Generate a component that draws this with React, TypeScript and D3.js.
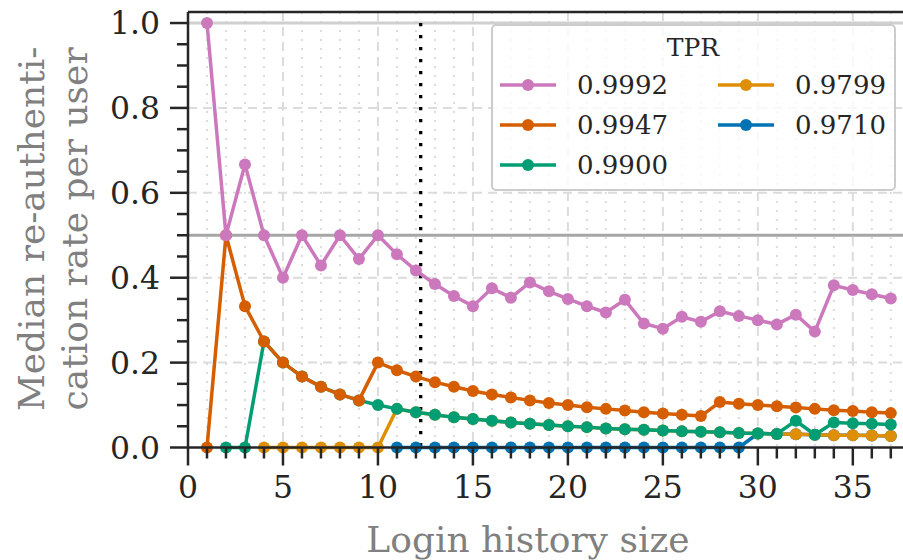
import React from "react";
import * as d3 from "d3";

// login history size 1..37
const historySize = d3.range(1, 38);

const tprLabels = ["0.9992", "0.9947", "0.9900", "0.9799", "0.9710"];
const colors = ["#cc78bc", "#d55e00", "#029e73", "#de8f05", "#0173b2"];

// median re-authentication rate per user (null = no point)
const tpr9992 = [
  1.0, 0.5, 0.667, 0.5, 0.4, 0.5, 0.429, 0.5, 0.444, 0.5, 0.455, 0.417, 0.385,
  0.357, 0.333, 0.375, 0.353, 0.389, 0.368, 0.35, 0.333, 0.318, 0.348, 0.292,
  0.28, 0.308, 0.296, 0.321, 0.31, 0.3, 0.29, 0.313, 0.273, 0.382, 0.371,
  0.361, 0.351,
];
const tpr9947 = [
  0, 0.5, 0.333, 0.25, 0.2, 0.167, 0.143, 0.125, 0.111, 0.2, 0.182, 0.167,
  0.154, 0.143, 0.133, 0.125, 0.118, 0.111, 0.105, 0.1, 0.095, 0.091, 0.087,
  0.083, 0.08, 0.077, 0.074, 0.107, 0.103, 0.1, 0.097, 0.094, 0.091, 0.088,
  0.086, 0.083, 0.081,
];
const tpr9900 = [
  null, 0, 0, 0.25, 0.2, 0.167, 0.143, 0.125, 0.111, 0.1, 0.091, 0.083, 0.077,
  0.071, 0.067, 0.063, 0.059, 0.056, 0.053, 0.05, 0.048, 0.045, 0.043, 0.042,
  0.04, 0.038, 0.037, 0.036, 0.034, 0.033, 0.032, 0.063, 0.03, 0.059, 0.057,
  0.056, 0.054,
];
const tpr9799 = [
  null, null, null, 0, 0, 0, 0, 0, 0, 0, 0.091, 0.083, 0.077, 0.071, 0.067,
  0.063, 0.059, 0.056, 0.053, 0.05, 0.048, 0.045, 0.043, 0.042, 0.04, 0.038,
  0.037, 0.036, 0.034, 0.033, 0.032, 0.031, 0.03, 0.029, 0.029, 0.028, 0.027,
];
const tpr9710 = [
  null, null, null, null, null, null, null, null, null, null, 0, 0, 0, 0, 0,
  0, 0, 0, 0, 0, 0, 0, 0, 0, 0, 0, 0, 0, 0, 0.033, 0.032, 0.031, 0.03, 0.029,
  0.029, 0.028, 0.027,
];
const seriesValues = [tpr9992, tpr9947, tpr9900, tpr9799, tpr9710];

const xTicks = [0, 5, 10, 15, 20, 25, 30, 35];
const yTicks = [0, 0.2, 0.4, 0.6, 0.8, 1.0];
const cutoff = 12.25;

const W = 903;
const H = 560;
const font = "'DejaVu Serif', serif";

export default function App() {
  const x = d3.scaleLinear().domain([0, 38.8]).range([188, 925]);
  const y = d3.scaleLinear().domain([0, 1.026]).range([447.5, 12]);

  const line = d3
    .line<[number, number | null]>()
    .defined((d) => d[1] != null)
    .x((d) => x(d[0]))
    .y((d) => y(d[1] as number));

  const minorX = d3.range(1, 39).filter((v) => v % 5 !== 0);
  const minorY = d3.range(0.05, 1.01, 0.05).map((v) => +v.toFixed(2)).filter((v) => !yTicks.includes(v));
  const grid = "#dcdcdc";
  const axisColor = "#262626";

  // drawing order: last legend entry at the bottom
  const order = [4, 3, 2, 1, 0];

  const legendX = 492;
  const legendY = 25;
  const rowH = 40;
  const lw = 3.5;
  const mr = 6;

  return (
    <svg width={W} height={H} style={{ position: "absolute", left: 0, top: 0, background: "#fff" }} fontFamily={font}>
      <rect width={W} height={H} fill="#fff" />
      {/* minor vertical grid */}
      {minorX.map((v) => (
        <line key={"mx" + v} x1={x(v)} x2={x(v)} y1={y.range()[1]} y2={y(0)} stroke={grid} strokeWidth={2} strokeDasharray="2,7" />
      ))}
      {/* major grid */}
      {xTicks.slice(1).map((v) => (
        <line key={"gx" + v} x1={x(v)} x2={x(v)} y1={y.range()[1]} y2={y(0)} stroke={grid} strokeWidth={2} strokeDasharray="9,6" />
      ))}
      {yTicks.slice(1, 5).map((v) => (
        <line key={"gy" + v} x1={x(0)} x2={W} y1={y(v)} y2={y(v)} stroke={grid} strokeWidth={2} strokeDasharray="9,6" />
      ))}
      {/* reference lines */}
      <line x1={x(0)} x2={W} y1={y(1)} y2={y(1)} stroke="#d0d0d0" strokeWidth={3} />
      <line x1={x(0)} x2={W} y1={y(0.5)} y2={y(0.5)} stroke="#a6a6a6" strokeWidth={3} />
      <line x1={x(cutoff)} x2={x(cutoff)} y1={y(1)} y2={y(0)} stroke="#000" strokeWidth={3.3} strokeDasharray="3.3,8.7" />

      {/* series */}
      {order.map((si) => {
        const pts = historySize.map((h, i) => [h, seriesValues[si][i]] as [number, number | null]);
        return (
          <g key={"s" + si}>
            <path d={line(pts) || ""} fill="none" stroke={colors[si]} strokeWidth={lw} strokeLinejoin="round" />
            {pts
              .filter((d) => d[1] != null)
              .map((d) => (
                <circle key={d[0]} cx={x(d[0])} cy={y(d[1] as number)} r={mr} fill={colors[si]} />
              ))}
          </g>
        );
      })}

      {/* spines */}
      <line x1={x(0)} x2={W} y1={y.range()[1]} y2={y.range()[1]} stroke={axisColor} strokeWidth={2.5} />
      <line x1={x(0)} x2={x(0)} y1={y.range()[1]} y2={y(0)} stroke={axisColor} strokeWidth={2.5} />
      <line x1={x(0)} x2={W} y1={y(0)} y2={y(0)} stroke={axisColor} strokeWidth={2.5} />

      {/* y ticks */}
      {minorY.map((v) => (
        <line key={"myt" + v} x1={x(0) - 11} x2={x(0)} y1={y(v)} y2={y(v)} stroke={axisColor} strokeWidth={2.5} />
      ))}
      {yTicks.map((v) => (
        <g key={"yt" + v}>
          <line x1={x(0) - 18} x2={x(0)} y1={y(v)} y2={y(v)} stroke={axisColor} strokeWidth={2.5} />
          <text x={x(0) - 28} y={y(v)} dy="0.36em" textAnchor="end" fontSize={31.5} fill={axisColor}>
            {v.toFixed(1)}
          </text>
        </g>
      ))}
      {/* x ticks */}
      {minorX.map((v) => (
        <line key={"mxt" + v} x1={x(v)} x2={x(v)} y1={y(0)} y2={y(0) + 11} stroke={axisColor} strokeWidth={2.5} />
      ))}
      {xTicks.map((v) => (
        <g key={"xt" + v}>
          <line x1={x(v)} x2={x(v)} y1={y(0)} y2={y(0) + 18} stroke={axisColor} strokeWidth={2.5} />
          <text x={x(v)} y={y(0) + 50} textAnchor="middle" fontSize={31.5} fill={axisColor}>
            {v}
          </text>
        </g>
      ))}

      {/* axis labels */}
      <text x={528} y={552} textAnchor="middle" fontSize={36} fill="#808080">
        Login history size
      </text>
      <g transform={`translate(0, ${y(0.515)}) rotate(-90)`} fontSize={36} fill="#808080" textAnchor="middle">
        <text x={0} y={44}>Median re-authenti-</text>
        <text x={0} y={87}>cation rate per user</text>
      </g>

      {/* legend */}
      <rect x={legendX} y={legendY} width={403} height={165} rx={4} fill="#fff" fillOpacity={0.8} stroke="#cccccc" strokeWidth={2} />
      <text x={legendX + 201} y={legendY + 31} textAnchor="middle" fontSize={25} fill={axisColor}>
        TPR
      </text>
      {tprLabels.map((lab, i) => {
        const col = Math.floor(i / 3);
        const row = i % 3;
        const lx = legendX + 8 + col * 218;
        const ly = legendY + 60 + row * rowH;
        return (
          <g key={lab}>
            <line x1={lx} x2={lx + 56} y1={ly} y2={ly} stroke={colors[i]} strokeWidth={lw} />
            <circle cx={lx + 28} cy={ly} r={mr} fill={colors[i]} />
            <text x={lx + 77} y={ly} dy="0.36em" fontSize={26} fill={axisColor}>
              {lab}
            </text>
          </g>
        );
      })}
    </svg>
  );
}
